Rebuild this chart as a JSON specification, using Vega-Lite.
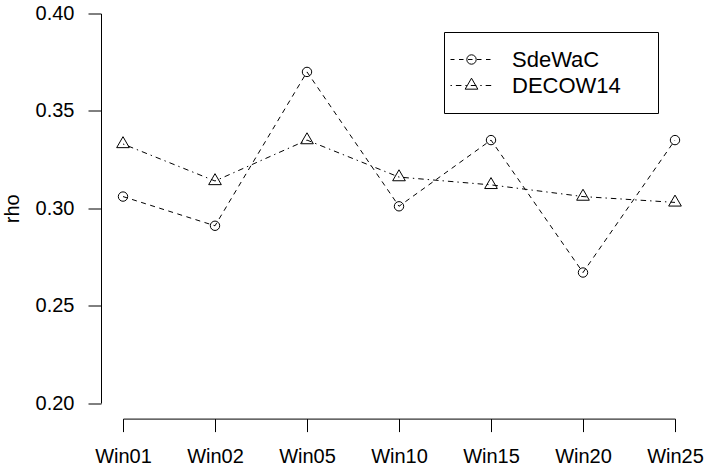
{
  "$schema": "https://vega.github.io/schema/vega-lite/v6.json",
  "width": 552,
  "height": 389.5,
  "autosize": {"type": "none"},
  "padding": {"left": 123, "top": 13.5, "right": 30, "bottom": 67},
  "background": "white",
  "config": {
    "view": {"stroke": null},
    "font": "Liberation Sans",
    "axis": {
      "labelFont": "Liberation Sans",
      "titleFont": "Liberation Sans",
      "labelFontSize": 20,
      "titleFontSize": 20,
      "titleFontWeight": "normal",
      "labelColor": "black",
      "titleColor": "black",
      "tickColor": "black",
      "domainColor": "black",
      "tickWidth": 1,
      "domainWidth": 1,
      "grid": false,
      "tickSize": 13
    }
  },
  "data": {
    "values": [
      {"win": "Win01", "series": "SdeWaC", "rho": 0.306},
      {"win": "Win02", "series": "SdeWaC", "rho": 0.291},
      {"win": "Win05", "series": "SdeWaC", "rho": 0.370},
      {"win": "Win10", "series": "SdeWaC", "rho": 0.301},
      {"win": "Win15", "series": "SdeWaC", "rho": 0.335},
      {"win": "Win20", "series": "SdeWaC", "rho": 0.267},
      {"win": "Win25", "series": "SdeWaC", "rho": 0.335},
      {"win": "Win01", "series": "DECOW14", "rho": 0.333},
      {"win": "Win02", "series": "DECOW14", "rho": 0.314},
      {"win": "Win05", "series": "DECOW14", "rho": 0.335},
      {"win": "Win10", "series": "DECOW14", "rho": 0.316},
      {"win": "Win15", "series": "DECOW14", "rho": 0.312},
      {"win": "Win20", "series": "DECOW14", "rho": 0.306},
      {"win": "Win25", "series": "DECOW14", "rho": 0.303}
    ]
  },
  "encoding": {
    "x": {
      "field": "win",
      "type": "ordinal",
      "scale": {"type": "point", "padding": 0, "domain": ["Win01", "Win02", "Win05", "Win10", "Win15", "Win20", "Win25"]},
      "axis": {"title": null, "labelAngle": 0, "offset": 15.6, "labelPadding": 15}
    },
    "y": {
      "field": "rho",
      "type": "quantitative",
      "scale": {"domain": [0.2, 0.4], "zero": false, "nice": false},
      "axis": {"title": "rho", "values": [0.2, 0.25, 0.3, 0.35, 0.4], "format": ".2f", "offset": 22, "labelPadding": 14, "titlePadding": 13}
    }
  },
  "layer": [
    {
      "mark": {"type": "line", "color": "black", "strokeWidth": 1},
      "encoding": {
        "strokeDash": {
          "field": "series",
          "type": "nominal",
          "scale": {"domain": ["SdeWaC", "DECOW14"], "range": [[5, 4.5], [1.4, 4, 5.5, 4]]},
          "legend": null
        }
      }
    },
    {
      "mark": {"type": "point", "filled": false, "color": "black", "strokeWidth": 1, "size": 4, "opacity": 1},
      "encoding": {
        "shape": {
          "field": "series",
          "type": "nominal",
          "scale": {
            "domain": ["SdeWaC", "DECOW14"],
            "range": [
              "M4.7,0A4.7,4.7,0,1,1,-4.7,0A4.7,4.7,0,1,1,4.7,0Z",
              "M0,-7.3L6.33,3.66L-6.33,3.66Z"
            ]
          },
          "legend": null
        }
      }
    },
    {
      "transform": [{"filter": "datum.rho > 1"}],
      "mark": {"type": "point", "filled": false, "color": "black", "strokeWidth": 1, "size": 4, "opacity": 1},
      "encoding": {
        "shape": {
          "field": "series",
          "type": "nominal",
          "scale": {
            "domain": ["SdeWaC", "DECOW14"],
            "range": [
              "M-21,0H-17M-12.5,0H-8M-3.5,0H1M5.5,0H10M14.5,0H19M4.7,0A4.7,4.7,0,1,1,-4.7,0A4.7,4.7,0,1,1,4.7,0ZM168,0",
              "M-21,0H-19.6M-15.6,0H-10.1M-6.1,0H-4.7M-0.7,0H4.8M8.8,0H10.2M14.2,0H19.7M0,-7.3L6.33,3.66L-6.33,3.66ZM168,0"
            ]
          },
          "legend": {
            "title": null,
            "orient": "none",
            "legendX": 321,
            "legendY": 18.5,
            "padding": 16.5,
            "strokeColor": "black",
            "cornerRadius": 0,
            "symbolSize": 4,
            "symbolStrokeWidth": 1,
            "symbolStrokeColor": "black",
            "symbolFillColor": "transparent",
            "symbolOpacity": 1,
            "symbolOffset": 0,
            "labelOffset": 29.5,
            "labelFontSize": 22,
            "labelFont": "Liberation Sans",
            "labelColor": "black",
            "rowPadding": 4
          }
        }
      }
    }
  ],
  "resolve": {"scale": {"shape": "independent"}, "legend": {"shape": "independent"}}
}
